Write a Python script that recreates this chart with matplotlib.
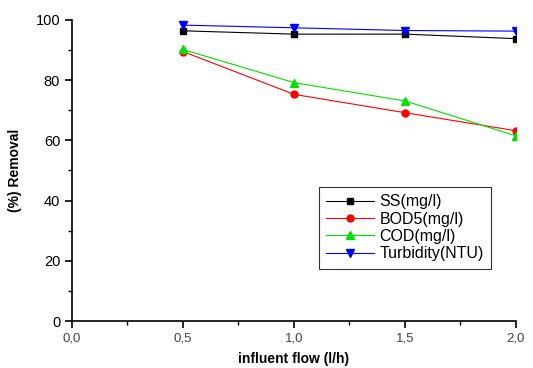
import matplotlib
matplotlib.use("Agg")
import matplotlib.pyplot as plt
from matplotlib.ticker import MultipleLocator, FuncFormatter

plt.rcParams['font.family'] = ['Liberation Sans', 'DejaVu Sans']

flow = [0.5, 1.0, 1.5, 2.0]
ss = [96.4, 95.3, 95.3, 93.8]
bod5 = [89.5, 75.3, 69.2, 63.2]
cod = [90.2, 79.2, 73.1, 61.5]
turbidity = [98.3, 97.4, 96.5, 96.3]

fig = plt.figure(figsize=(5.33, 3.68), dpi=100)
ax = fig.add_axes([0.135, 0.1277, 0.833, 0.818])

ax.plot(flow, ss, color="black", marker="s", ms=5, lw=0.8, label="SS(mg/l)")
ax.plot(flow, bod5, color="red", marker="o", ms=5, lw=0.8, label="BOD5(mg/l)")
ax.plot(flow, cod, color="#00e000", marker="^", ms=6, lw=0.8, label="COD(mg/l)")
ax.plot(flow, turbidity, color="blue", marker="v", ms=6, lw=0.8, label="Turbidity(NTU)")

ax.set_xlim(0, 2.0)
ax.set_ylim(0, 100)
ax.xaxis.set_major_locator(MultipleLocator(0.5))
ax.xaxis.set_minor_locator(MultipleLocator(0.25))
ax.yaxis.set_major_locator(MultipleLocator(20))
ax.yaxis.set_minor_locator(MultipleLocator(10))
ax.xaxis.set_major_formatter(FuncFormatter(lambda v, p: f"{v:.1f}".replace(".", ",")))

for s in ["top", "right"]:
    ax.spines[s].set_visible(False)
ax.spines["left"].set_linewidth(1.2)
ax.spines["bottom"].set_linewidth(1.2)
ax.tick_params(which="major", direction="out", length=5, width=1.2, labelsize=10.5, colors="black")
ax.tick_params(which="minor", direction="out", length=3, width=1.0)
ax.tick_params(axis="x", labelcolor="#444444", labelsize=9.5)

ax.set_xlabel("influent flow (l/h)", fontweight="bold", fontsize=10, labelpad=5)
ax.set_ylabel("(%) Removal", fontweight="bold", fontsize=10, labelpad=10)

leg = ax.legend(loc="upper left", bbox_to_anchor=(0.556, 0.445), fontsize=11.5,
                frameon=True, fancybox=False, edgecolor="black", handlelength=3.0,
                borderpad=0.45, labelspacing=0.15, handletextpad=0.35,
                borderaxespad=0)
leg.get_frame().set_linewidth(0.8)

fig.savefig("out.png", dpi=100)
